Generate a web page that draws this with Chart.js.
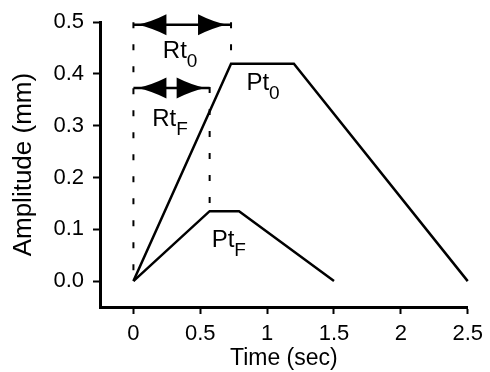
<!DOCTYPE html>
<html>
<head>
<meta charset="utf-8">
<script src="https://cdn.jsdelivr.net/npm/chart.js@4"></script>
<style>
  html, body { margin: 0; padding: 0; background: #fff; }
  #wrap { width: 490px; height: 372px; }
</style>
</head>
<body>
<div id="wrap"><canvas id="chart" width="490" height="372"></canvas></div>
<script>
"use strict";

/* Trapezoid amplitude profiles (Pt0 / PtF) with rise-time markers. */

const FONT = '"Liberation Sans", Arial, Helvetica, sans-serif';

const X_TICKS = [0, 0.5, 1, 1.5, 2, 2.5];
const Y_TICKS = [0, 0.1, 0.2, 0.3, 0.4, 0.5];

// Pt0 trace
const PT0_T = [0, 0.73, 1.2, 2.5];
const PT0_A = [0, 0.42, 0.42, 0];
// PtF trace
const PTF_T = [0, 0.57, 0.79, 1.5];
const PTF_A = [0, 0.135, 0.135, 0];

// dashed vertical markers
const MARK_T = [0, 0.73, 0.57];
const MARK_TOP = [0.5, 0.5, 0.375];
const MARK_BOTTOM = [0, 0.42, 0.135];

// double-headed rise-time arrows (from t=0 to end)
const ARROW_A = [0.495, 0.373];
const ARROW_END = [0.73, 0.57];

// text labels: main text, subscript, anchor (left/baseline) in data units
const LABEL_TEXT = ["Rt", "Rt", "Pt", "Pt"];
const LABEL_SUB = ["0", "F", "0", "F"];
const LABEL_T = [0.22, 0.14, 0.845, 0.585];
const LABEL_A = [0.43, 0.30, 0.37, 0.066];

const toXY = (xs, ys) => xs.map((x, i) => ({ x, y: ys[i] }));

const lineDs = (data, extra) => Object.assign({
  data,
  showLine: true,
  borderColor: "#000",
  borderWidth: 2.5,
  pointRadius: 0,
  pointHoverRadius: 0,
  fill: false,
  tension: 0,
  clip: false,
}, extra || {});

const datasets = [
  lineDs(toXY(PT0_T, PT0_A)),
  lineDs(toXY(PTF_T, PTF_A)),
];
MARK_T.forEach((t, i) => {
  datasets.push(lineDs([{ x: t, y: MARK_TOP[i] }, { x: t, y: MARK_BOTTOM[i] }],
    { borderDash: [6, 16], borderWidth: 2 }));
});
ARROW_A.forEach((a, i) => {
  datasets.push(lineDs([{ x: 0, y: a }, { x: ARROW_END[i], y: a }], { borderWidth: 2.5 }));
});

// arrowheads + subscripted labels, positioned through the scales
const annotations = {
  id: "annotations",
  afterDatasetsDraw(chart) {
    const { ctx, scales: { x, y } } = chart;
    ctx.save();
    ctx.fillStyle = "#000";
    const inset = 4, len = 29, half = 10.5;
    ARROW_A.forEach((a, i) => {
      const py = y.getPixelForValue(a);
      const x0 = x.getPixelForValue(0) + inset;
      const x1 = x.getPixelForValue(ARROW_END[i]) - inset;
      [[x0, 1], [x1, -1]].forEach(([tip, dir]) => {
        ctx.beginPath();
        ctx.moveTo(tip, py);
        ctx.quadraticCurveTo(tip + dir * len * 0.5, py - half * 0.3, tip + dir * len, py - half);
        ctx.lineTo(tip + dir * len, py + half);
        ctx.quadraticCurveTo(tip + dir * len * 0.5, py + half * 0.3, tip, py);
        ctx.closePath();
        ctx.fill();
      });
    });
    ctx.textBaseline = "alphabetic";
    ctx.textAlign = "left";
    LABEL_TEXT.forEach((txt, i) => {
      const px = x.getPixelForValue(LABEL_T[i]);
      const py = y.getPixelForValue(LABEL_A[i]);
      ctx.font = `24px ${FONT}`;
      ctx.fillText(txt, px, py);
      const w = ctx.measureText(txt).width;
      ctx.font = `19px ${FONT}`;
      ctx.fillText(LABEL_SUB[i], px + w, py + 9);
    });
    ctx.restore();
  },
};

const axisCommon = {
  type: "linear",
  border: { color: "#000", width: 3 },
  grid: { drawOnChartArea: false, drawTicks: true, tickLength: 7, tickWidth: 2, tickColor: "#000" },
};

new Chart(document.getElementById("chart"), {
  type: "scatter",
  data: { datasets },
  plugins: [annotations],
  options: {
    responsive: false,
    animation: false,
    layout: { padding: { top: 22, right: 20, left: 0, bottom: 0 } },
    plugins: { legend: { display: false }, tooltip: { enabled: false } },
    scales: {
      x: Object.assign({}, axisCommon, {
        min: -0.25,
        max: 2.5,
        afterBuildTicks: (s) => { s.ticks = X_TICKS.map((v) => ({ value: v })); },
        afterFit: (s) => { s.height = 65; },
        ticks: { color: "#000", font: { family: FONT, size: 22 }, padding: 7, maxRotation: 0,
          callback: (v) => String(v) },
        title: { display: true, text: "Time (sec)", color: "#000",
          font: { family: FONT, size: 23 }, padding: { top: 0, bottom: 0 } },
      }),
      y: Object.assign({}, axisCommon, {
        min: -0.05,
        max: 0.5,
        afterBuildTicks: (s) => { s.ticks = Y_TICKS.map((v) => ({ value: v })); },
        afterFit: (s) => { s.width = 100; },
        ticks: { color: "#000", font: { family: FONT, size: 22 }, padding: 9,
          callback: (v) => Number(v).toFixed(1) },
        title: { display: true, text: "Amplitude (mm)", color: "#000",
          font: { family: FONT, size: 26 }, padding: { top: 8, bottom: 0 } },
      }),
    },
  },
});
</script>
</body>
</html>
